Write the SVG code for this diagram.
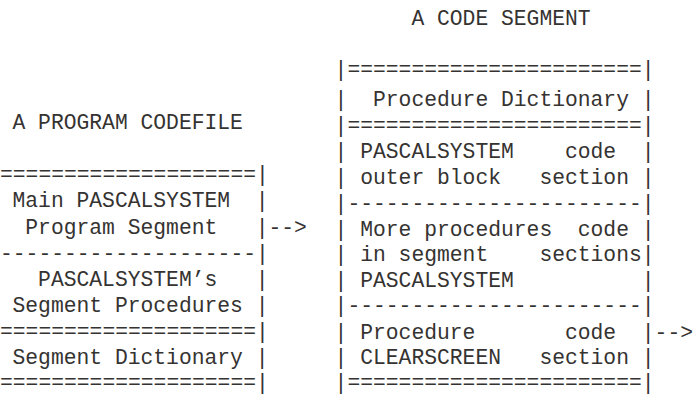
<svg xmlns="http://www.w3.org/2000/svg" width="693" height="394" viewBox="0 0 693 394" xml:space="preserve">
<style>
.t{font-family:"Liberation Mono","Courier New",monospace;font-size:21.33px;fill:#353331;white-space:pre;}
</style>
<rect width="693" height="394" fill="#ffffff"/>
<g id="program-codefile">
<text class="t" x="12.5" y="129">A PROGRAM CODEFILE</text>
<g id="codefile-borders">
<text class="t" x="0" y="180.5">====================|</text>
<text class="t" x="0" y="259.5">--------------------|</text>
<text class="t" x="0" y="338">====================|</text>
<text class="t" x="0" y="388.5">====================|</text>
</g>
<g id="main-program-segment">
<text class="t" x="12.5" y="207">Main PASCALSYSTEM  |</text>
<text class="t" x="25.3" y="234">Program Segment   |</text>
</g>
<g id="segment-procedures">
<text class="t" x="38.1" y="285.5">PASCALSYSTEM’s   |</text>
<text class="t" x="12.5" y="311.5">Segment Procedures |</text>
</g>
<g id="segment-dictionary">
<text class="t" x="12.5" y="364">Segment Dictionary |</text>
</g>
</g>
<g id="code-segment">
<text class="t" x="411.4" y="25">A CODE SEGMENT</text>
<g id="segment-borders">
<text class="t" x="334.6" y="76">|=======================|</text>
<text class="t" x="334.6" y="132">|=======================|</text>
<text class="t" x="334.6" y="209.5">|-----------------------|</text>
<text class="t" x="334.6" y="312">|-----------------------|</text>
<text class="t" x="334.6" y="388.5">|=======================|</text>
</g>
<g id="procedure-dictionary">
<text class="t" x="334.6" y="106">|  Procedure Dictionary |</text>
</g>
<g id="outer-block-code">
<text class="t" x="334.6" y="158">| PASCALSYSTEM    code  |</text>
<text class="t" x="334.6" y="183.5">| outer block   section |</text>
</g>
<g id="more-procedures-code">
<text class="t" x="334.6" y="235.5">| More procedures  code |</text>
<text class="t" x="334.6" y="261">| in segment    sections|</text>
<text class="t" x="334.6" y="286.5">| PASCALSYSTEM          |</text>
</g>
<g id="clearscreen-code">
<text class="t" x="334.6" y="338.5">| Procedure       code  |</text>
<text class="t" x="334.6" y="364">| CLEARSCREEN   section |</text>
</g>
</g>
<g id="connectors">
<text class="t" x="268.5" y="234">--&gt;</text>
<text class="t" x="654.6" y="338.5">--&gt;</text>
</g>
</svg>
